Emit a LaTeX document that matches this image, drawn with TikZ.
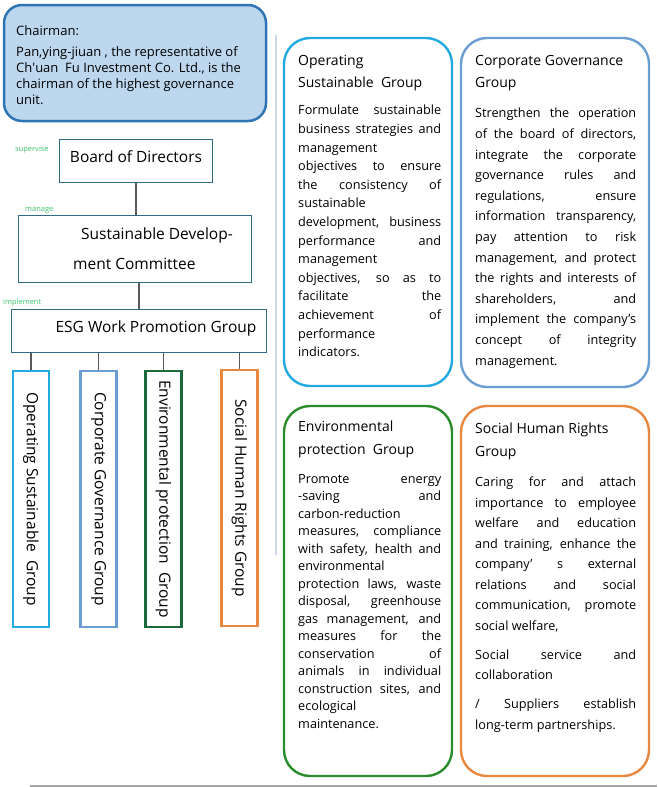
\documentclass[tikz,border=0pt]{standalone}
\usepackage{fontspec}
\setmainfont{Open Sans}
\usetikzlibrary{positioning}
\hbadness=10000
\hyphenpenalty=10000
\exhyphenpenalty=10000

\definecolor{chairfill}{HTML}{BDD7EE}
\definecolor{chairline}{HTML}{2E75B6}
\definecolor{unitline}{HTML}{2F6B87}
\definecolor{notecol}{HTML}{3CC36A}
\definecolor{linkcol}{HTML}{595959}
\definecolor{sepcol}{HTML}{C9D6E6}
\definecolor{opcol}{HTML}{22A9E0}
\definecolor{cgcol}{HTML}{6A9ED2}
\definecolor{epcol}{HTML}{1B6A3B}
\definecolor{epcard}{HTML}{2A8C2A}
\definecolor{shcol}{HTML}{E8873E}

\tikzset{
  chairbox/.style={draw=chairline, fill=chairfill, line width=2.5pt, rounded corners=18pt, minimum width=262pt, minimum height=116pt, inner sep=0},
  unitbox/.style={draw=unitline, line width=1pt, inner sep=0},
  unitname/.style={font=\fontsize{15.5}{30}\selectfont, inner sep=0},
  note/.style={text=notecol, font=\fontsize{7.5}{8}\selectfont, anchor=west, inner sep=0},
  groupbox/.style={draw=#1, line width=2.6pt, minimum width=36pt, minimum height=256pt, inner sep=0},
  groupname/.style={rotate=-90, font=\fontsize{15.5}{18}\selectfont, inner sep=0},
  card/.style={draw=#1, line width=2.4pt, rounded corners=26pt, inner sep=0},
  cardhead/.style={anchor=north west, align=left, inner sep=0, font=\fontsize{14}{22.5}\selectfont},
  cardbody/.style 2 args={anchor=north west, text width=#1, align=justify, inner sep=0, font=\fontsize{12.7}{#2}\selectfont},
  link/.style={draw=linkcol, line width=1.3pt},
}

\begin{document}
\begin{tikzpicture}[x=1pt, y=-1pt]
	\useasboundingbox (0,0) rectangle (657,787);
	% Chairman and the chain of units:
	\node[chairbox] (chair) at (135,63) {};
	\node[anchor=north west, align=left, inner sep=0, font=\fontsize{13}{16}\selectfont] (chairtext) at (16,25) {Chairman:\\[5pt]Pan,ying-jiuan , the representative of\\Ch\textquotesingle uan~ Fu Investment Co. Ltd., is the\\chairman of the highest governance\\unit.};
	\node[unitbox, minimum width=153pt, minimum height=43pt] (bod) at (136,161) {};
	\node[unitname] (bodtext) at ([yshift=4pt]bod.center) {Board of Directors};
	\node[unitbox, minimum width=233pt, minimum height=67pt] (sdc) at (135,249) {};
	\node[unitname, anchor=north west, align=left] (sdctext) at (73,228) {\hspace*{8pt}Sustainable Develop-\\ment Committee};
	\node[unitbox, minimum width=255pt, minimum height=43pt] (esg) at (139,331) {};
	\node[unitname] (esgtext) at (156,328) {ESG Work Promotion Group};
	\node[note] (supnote) at (15,150) {supervise};
	\node[note] (mannote) at (25,210) {manage};
	\node[note] (impnote) at (3,303) {implement};
	\draw[link] (bod.south) -- (bod.south |- sdc.north);
	\draw[link] (esg.north |- sdc.south) -- (esg.north);
	% Four groups:
	\node[groupbox=opcol] (op) at (31,499) {};
	\node[groupname] (optext) at (op.center) {Operating Sustainable~ Group};
	\node[groupbox=cgcol] (cg) at (98.5,499) {};
	\node[groupname] (cgtext) at (cg.center) {Corporate Governance Group};
	\node[groupbox=epcol] (ep) at (163.5,499) {};
	\node[groupname] (eptext) at (ep.center) {Environmental protection~ Group};
	\node[groupbox=shcol] (sh) at (239.5,498) {};
	\node[groupname] (shtext) at (sh.center) {Social Human Rights Group};
	\foreach \g in {op,cg,ep,sh}
		\draw[link] (\g.north) -- (\g.north |- esg.south);
	\draw[sepcol, line width=2pt] (276,35) -- (276,555);
	% Cards:
	\node[card=opcol, minimum width=168pt, minimum height=348pt] (opcard) at (368,212) {};
	\node[cardhead] (ophead) at (298,55) {Operating\\Sustainable~ Group};
	\node[cardbody={143pt}{18.6}] (opbody) at (298,105) {Formulate sustainable\linebreak business strategies and\linebreak management\linebreak objectives to ensure\linebreak the consistency of\linebreak sustainable\linebreak development, business\linebreak performance and\linebreak management\linebreak objectives, so as to\linebreak facilitate the\linebreak achievement of\linebreak performance\linebreak indicators.};
	\node[card=cgcol, minimum width=188pt, minimum height=349pt] (cgcard) at (555,212.5) {};
	\node[cardhead] (cghead) at (475,55) {Corporate Governance\\Group};
	\node[cardbody={161pt}{20.6}] (cgbody) at (475,108) {Strengthen the operation\linebreak of the board of directors,\linebreak integrate the corporate\linebreak governance rules and\linebreak regulations, ensure\linebreak information transparency,\linebreak pay attention to risk\linebreak management, and protect\linebreak the rights and interests of\linebreak shareholders, and\linebreak implement the company’s\linebreak concept of integrity\linebreak management.};
	\node[card=epcard, minimum width=168pt, minimum height=370pt] (epcard) at (368,591) {};
	\node[cardhead] (ephead) at (298,421) {Environmental\\protection~ Group};
	\node[cardbody={143pt}{17.5}] (epbody) at (298,474) {Promote energy\linebreak -saving and\linebreak carbon-reduction\linebreak measures, compliance\linebreak with safety, health and\linebreak environmental\linebreak protection laws, waste\linebreak disposal, greenhouse\linebreak gas management, and\linebreak measures for the\linebreak conservation of\linebreak animals in individual\linebreak construction sites, and\linebreak ecological\linebreak maintenance.};
	\node[card=shcol, minimum width=188pt, minimum height=370pt] (shcard) at (555,591) {};
	\node[cardhead] (shhead) at (475,423) {Social Human Rights\\Group};
	\node[cardbody={161pt}{20.5}] (shbody) at (475,477) {Caring for and attach\linebreak importance to employee\linebreak welfare and education\linebreak and training, enhance the\linebreak company’ s external\linebreak relations and social\linebreak communication, promote\linebreak social welfare,\par\vspace{8.5pt}Social service and\linebreak collaboration\par\vspace{8.5pt}/ Suppliers establish\linebreak long-term partnerships.};
	\draw[gray!70, line width=1.2pt] (30,786) -- (657,786);
\end{tikzpicture}
\end{document}
